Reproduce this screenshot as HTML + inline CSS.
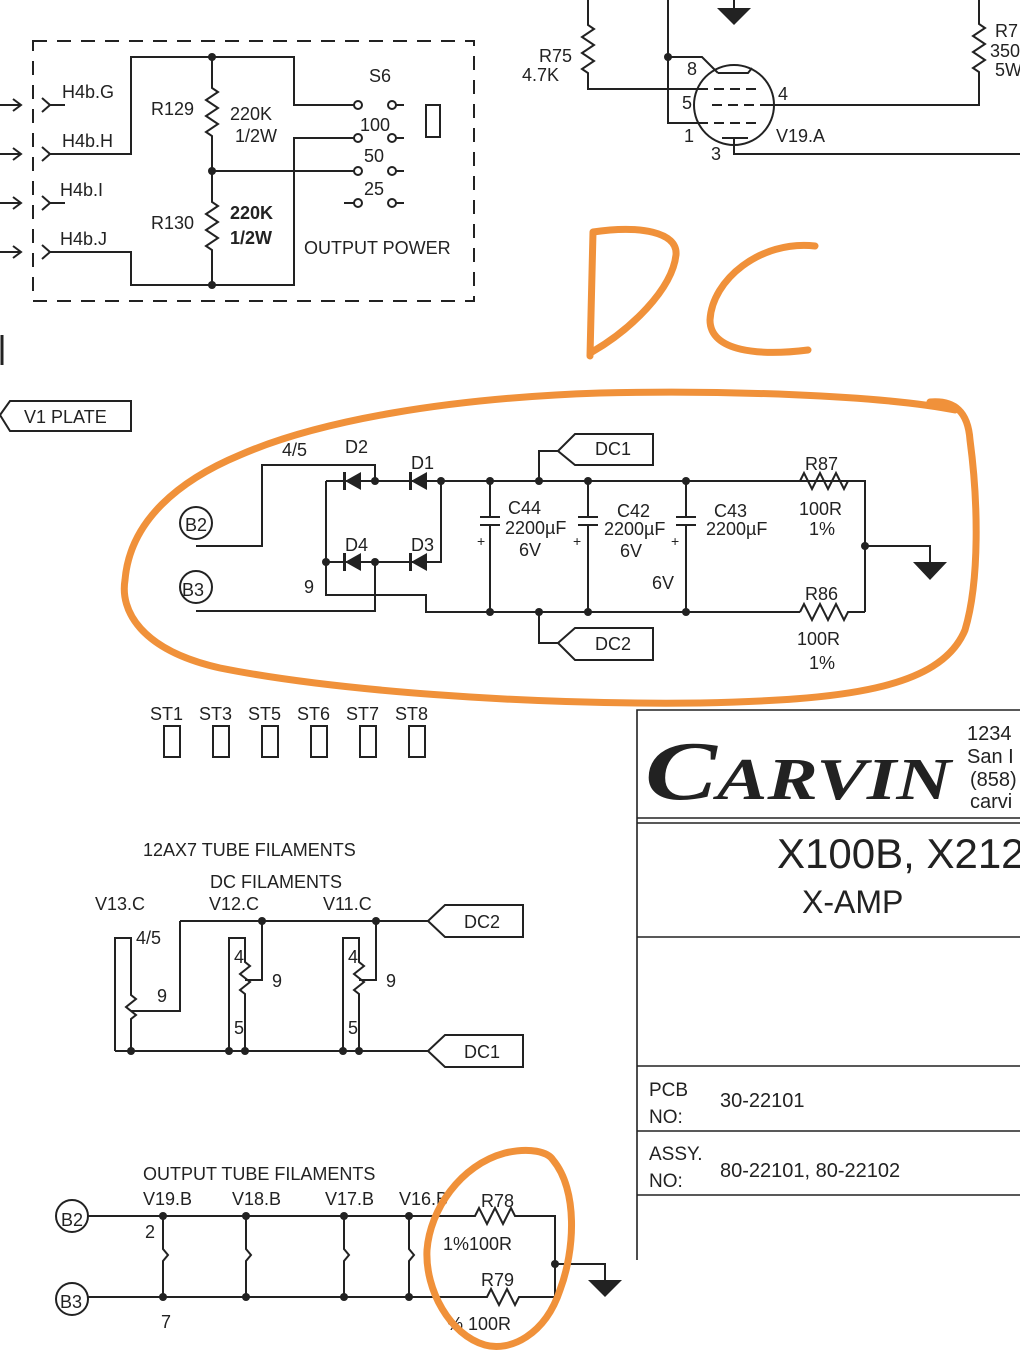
<!DOCTYPE html>
<html><head><meta charset="utf-8"><style>
html,body{margin:0;padding:0;background:#fff;}
svg{display:block;}
text{font-family:"Liberation Sans",sans-serif;fill:#222;}
</style></head><body>
<svg width="1020" height="1354" viewBox="0 0 1020 1354" xmlns="http://www.w3.org/2000/svg">
<g stroke="#222" stroke-width="2" fill="none">
<rect x="33" y="41" width="441" height="260" stroke-dasharray="14,10"/>
<g>
<path d="M0 105 H20 M13 99 L21 105 L13 111"/>
<path d="M0 154 H20 M13 148 L21 154 L13 160"/>
<path d="M0 203 H20 M13 197 L21 203 L13 209"/>
<path d="M0 252 H20 M13 246 L21 252 L13 258"/>
<path d="M42 98 L50 105 L42 112 M50 105 H65"/>
<path d="M42 147 L50 154 L42 161 M50 154 H131 V57 H294 V105 H358"/>
<path d="M42 196 L50 203 L42 210 M50 203 H65"/>
<path d="M42 245 L50 252 L42 259 M50 252 H131 V285 H294 V138 H358"/>
</g>
<path d="M212 57 V88 l6 4 l-12 8 l12 8 l-12 8 l12 8 l-12 8 l6 4 V202 l6 4 l-12 8 l12 8 l-12 8 l12 8 l-12 8 l6 4 V285"/>
<path d="M212 171 H358"/>
<circle cx="358" cy="105" r="4" fill="#fff"/><circle cx="358" cy="138" r="4" fill="#fff"/><circle cx="358" cy="171" r="4" fill="#fff"/><circle cx="358" cy="203" r="4" fill="#fff"/>
<path d="M344 203 H354"/>
<circle cx="392" cy="105" r="4" fill="#fff"/><circle cx="392" cy="138" r="4" fill="#fff"/><circle cx="392" cy="171" r="4" fill="#fff"/><circle cx="392" cy="203" r="4" fill="#fff"/>
<path d="M396 105 H404 M396 138 H404 M396 171 H404 M396 203 H404"/>
<rect x="426" y="105" width="14" height="32"/>
<path d="M588 0 V25 l6 4 l-12 8 l12 8 l-12 8 l12 8 l-12 8 l6 4 V89 H700"/>
<path d="M668 0 V123 H700 M668 57 H702 L718 73"/>
<path d="M734 0 V10"/>
<circle cx="734" cy="105" r="40"/>
<path d="M718 73 L748 73 L752 68" />
<path d="M700 89 h8 m6 0 h10 m6 0 h10 m6 0 h10 M712 105 h10 m6 0 h10 m6 0 h10 m6 0 h10 H979 V72 l-6 -4 l12 -8 l-12 -8 l12 -8 l-12 -8 l12 -8 l-6 -4 V0 M700 123 h8 m6 0 h10 m6 0 h10 m6 0 h10"/>
<path d="M722 138 H748 M734 138 V154 H1020"/>
<path d="M2 335 V365" stroke-width="3"/>
<path d="M0 415 L10 401 H131 V431 H10 Z"/>
<path d="M326 481 H865 V612 M326 481 V595 H426 V612 H800"/>
<path d="M800 481 l4 -8 l8 16 l8 -16 l8 16 l8 -16 l8 16 l4 -8"/>
<path d="M800 612 l4 -8 l8 16 l8 -16 l8 16 l8 -16 l8 16 l4 -8 H865"/>
<path d="M865 546 H930 V562"/>
<path d="M326 562 H441 V481"/>
<path d="M196 546 H262 V465 H375 V481"/>
<path d="M196 611 H375 V562"/>
<circle cx="196" cy="523" r="16"/><circle cx="196" cy="587" r="16"/>
<path d="M490 481 V517 M480 517 H500 M480 525 H500 M490 525 V612"/>
<path d="M588 481 V517 M578 517 H598 M578 525 H598 M588 525 V612"/>
<path d="M686 481 V517 M676 517 H696 M676 525 H696 M686 525 V612"/>
<path d="M539 481 V451 H558"/>
<path d="M558 451 L575 434 H653 V465 H575 Z"/>
<path d="M539 612 V643 H558"/>
<path d="M558 643 L575 628 H653 V660 H575 Z"/>
<rect x="164" y="726" width="16" height="31"/><rect x="213" y="726" width="16" height="31"/><rect x="262" y="726" width="16" height="31"/><rect x="311" y="726" width="16" height="31"/><rect x="360" y="726" width="16" height="31"/><rect x="409" y="726" width="16" height="31"/>
<path d="M180 921 H428"/>
<path d="M428 921 L445 905 H523 V937 H445 Z"/>
<path d="M115 1051 H428"/>
<path d="M428 1051 L445 1035 H523 V1067 H445 Z"/>
<path d="M115 1051 V938 H131 V995 l5 4 l-10 8 l10 8 l-5 4 V1051 M131 1011 H180 V921"/>
<path d="M229 1051 V938 H245 V962 l5 4 l-10 8 l10 8 l-10 8 l5 4 V1051 M245 980 H262 V921"/>
<path d="M343 1051 V938 H359 V962 l5 4 l-10 8 l10 8 l-10 8 l5 4 V1051 M359 980 H376 V921"/>
<circle cx="72" cy="1216" r="16"/><circle cx="72" cy="1299" r="16"/>
<path d="M88 1216 H475 l4 -8 l8 16 l8 -16 l8 16 l8 -16 l4 8 H555 V1297 H519 l-4 8 l-8 -16 l-8 16 l-8 -16 l-4 8 H88"/>
<path d="M555 1264 H605 V1280"/>
<path d="M163 1216 V1249 l5 6 l-5 6 V1297 M246 1216 V1249 l5 6 l-5 6 V1297 M344 1216 V1249 l5 6 l-5 6 V1297 M409 1216 V1249 l5 6 l-5 6 V1297"/>
<path d="M637 1260 V710 H1020 M637 818 H1020 M637 823 H1020 M637 937 H1020 M637 1066 H1020 M637 1131 H1020 M637 1195 H1020" stroke-width="1.6"/>
</g>
<g fill="#222">
<circle cx="212" cy="57" r="4"/><circle cx="212" cy="171" r="4"/><circle cx="212" cy="285" r="4"/>
<circle cx="668" cy="57" r="4"/>
<path d="M717 8 H751 L734 25 Z"/>
<circle cx="375" cy="481" r="4"/><circle cx="441" cy="481" r="4"/><circle cx="490" cy="481" r="4"/><circle cx="539" cy="481" r="4"/><circle cx="588" cy="481" r="4"/><circle cx="686" cy="481" r="4"/>
<circle cx="490" cy="612" r="4"/><circle cx="539" cy="612" r="4"/><circle cx="588" cy="612" r="4"/><circle cx="686" cy="612" r="4"/>
<circle cx="326" cy="562" r="4"/><circle cx="375" cy="562" r="4"/><circle cx="865" cy="546" r="4"/>
<path d="M913 562 H947 L930 580 Z"/>
<path d="M345 481 L361 472 V490 Z M411 481 L427 472 V490 Z M345 562 L361 553 V571 Z M411 562 L427 553 V571 Z"/>
<path d="M343 472 h3 v18 h-3z M409 472 h3 v18 h-3z M343 553 h3 v18 h-3z M409 553 h3 v18 h-3z"/>
<circle cx="262" cy="921" r="4"/><circle cx="376" cy="921" r="4"/>
<circle cx="131" cy="1051" r="4"/><circle cx="229" cy="1051" r="4"/><circle cx="245" cy="1051" r="4"/><circle cx="343" cy="1051" r="4"/><circle cx="359" cy="1051" r="4"/>
<circle cx="163" cy="1216" r="4"/><circle cx="246" cy="1216" r="4"/><circle cx="344" cy="1216" r="4"/><circle cx="409" cy="1216" r="4"/>
<circle cx="163" cy="1297" r="4"/><circle cx="246" cy="1297" r="4"/><circle cx="344" cy="1297" r="4"/><circle cx="409" cy="1297" r="4"/>
<circle cx="555" cy="1264" r="4"/>
<path d="M588 1280 H622 L605 1297 Z"/>
</g>
<g font-size="18">
<text x="62" y="98">H4b.G</text><text x="62" y="147">H4b.H</text><text x="60" y="196">H4b.I</text><text x="60" y="245">H4b.J</text>
<text x="151" y="115">R129</text><text x="230" y="120">220K</text><text x="235" y="142">1/2W</text>
<text x="151" y="229">R130</text><text x="230" y="219" font-weight="bold">220K</text><text x="230" y="244" font-weight="bold">1/2W</text>
<text x="369" y="82">S6</text><text x="360" y="131">100</text><text x="364" y="162">50</text><text x="364" y="195">25</text>
<text x="304" y="254">OUTPUT POWER</text>
<text x="539" y="62">R75</text><text x="522" y="81">4.7K</text>
<text x="687" y="75">8</text><text x="682" y="109">5</text><text x="684" y="142">1</text><text x="711" y="160">3</text><text x="778" y="100">4</text><text x="776" y="142">V19.A</text>
<text x="995" y="37">R7</text><text x="990" y="57">350</text><text x="995" y="76">5W</text>
<text x="24" y="423">V1 PLATE</text>
<text x="282" y="456">4/5</text><text x="345" y="453">D2</text><text x="411" y="469">D1</text>
<text x="345" y="551">D4</text><text x="411" y="551">D3</text><text x="304" y="593">9</text>
<text x="185" y="531">B2</text><text x="182" y="596">B3</text>
<text x="595" y="455">DC1</text><text x="595" y="650">DC2</text>
<text x="508" y="514">C44</text><text x="505" y="534">2200µF</text><text x="519" y="556">6V</text>
<text x="617" y="517">C42</text><text x="604" y="535">2200µF</text><text x="620" y="557">6V</text>
<text x="714" y="517">C43</text><text x="706" y="535">2200µF</text><text x="652" y="589">6V</text>
<text x="477" y="546" font-size="14">+</text><text x="573" y="546" font-size="14">+</text><text x="671" y="546" font-size="14">+</text>
<text x="805" y="470">R87</text><text x="799" y="515">100R</text><text x="809" y="535">1%</text>
<text x="805" y="600">R86</text><text x="797" y="645">100R</text><text x="809" y="669">1%</text>
<text x="150" y="720">ST1</text><text x="199" y="720">ST3</text><text x="248" y="720">ST5</text><text x="297" y="720">ST6</text><text x="346" y="720">ST7</text><text x="395" y="720">ST8</text>
<text x="143" y="856">12AX7 TUBE FILAMENTS</text><text x="210" y="888">DC FILAMENTS</text>
<text x="95" y="910">V13.C</text><text x="209" y="910">V12.C</text><text x="323" y="910">V11.C</text>
<text x="464" y="928">DC2</text><text x="464" y="1058">DC1</text>
<text x="136" y="944">4/5</text><text x="157" y="1002">9</text>
<text x="234" y="963">4</text><text x="272" y="987">9</text><text x="234" y="1034">5</text>
<text x="348" y="963">4</text><text x="386" y="987">9</text><text x="348" y="1034">5</text>
<text x="143" y="1180">OUTPUT TUBE FILAMENTS</text>
<text x="143" y="1205">V19.B</text><text x="232" y="1205">V18.B</text><text x="325" y="1205">V17.B</text><text x="399" y="1205">V16.B</text>
<text x="481" y="1207">R78</text><text x="443" y="1250">1%100R</text><text x="481" y="1286">R79</text><text x="447" y="1330">% 100R</text>
<text x="145" y="1238">2</text><text x="161" y="1328">7</text>
<text x="61" y="1226">B2</text><text x="60" y="1308">B3</text>
</g>
<text x="645" y="799" style="font-family:'Liberation Serif',serif;font-style:italic;font-weight:bold;font-size:84px;font-variant:small-caps" textLength="306" lengthAdjust="spacingAndGlyphs">Carvin</text>
<g font-size="20">
<text x="967" y="740">1234</text><text x="967" y="763">San I</text><text x="970" y="786">(858)</text><text x="970" y="808">carvi</text>
<text x="777" y="868" font-size="42">X100B, X212</text>
<text x="802" y="913" font-size="32">X-AMP</text>
<text x="649" y="1096" font-size="19">PCB</text><text x="649" y="1123" font-size="19">NO:</text><text x="720" y="1107">30-22101</text>
<text x="649" y="1160" font-size="19">ASSY.</text><text x="649" y="1187" font-size="19">NO:</text><text x="720" y="1177">80-22101, 80-22102</text>
</g>
<g stroke="#F0913A" stroke-width="7" fill="none" stroke-linecap="round" stroke-linejoin="round">
<path d="M593 232 L590 356 M593 232 C640 225 678 232 676 255 C672 290 630 330 592 352"/>
<path d="M815 246 C760 240 712 280 710 320 C710 352 760 356 808 350"/>
<path d="M930 402 C955 400 968 412 970 440 C978 500 980 580 965 630 C940 690 840 700 700 703 C520 705 330 690 220 668 C140 650 120 610 125 580 C130 520 180 480 240 455 C320 420 450 398 600 393 C720 390 880 395 955 410"/>
<path d="M553 1160 C578 1190 575 1250 560 1290 C545 1335 510 1352 485 1345 C450 1335 425 1290 427 1250 C430 1210 460 1165 505 1153 C530 1147 548 1152 553 1160"/>
</g>
</svg>
</body></html>
